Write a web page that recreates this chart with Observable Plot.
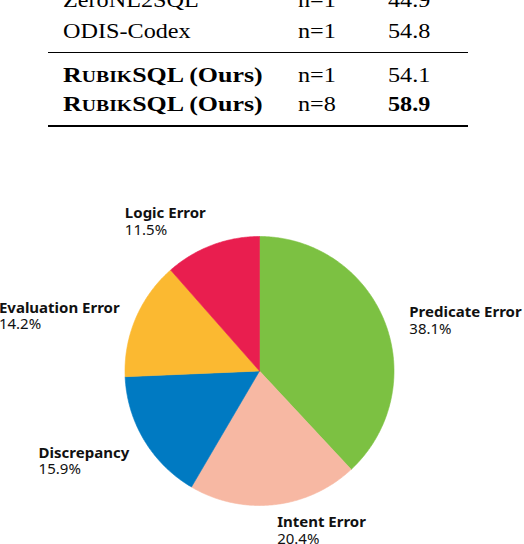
<!DOCTYPE html>
<html><head><meta charset="utf-8">
<script src="https://cdn.jsdelivr.net/npm/d3@7"></script>
<script src="https://cdn.jsdelivr.net/npm/@observablehq/plot@0.6"></script>
<style>
body{margin:0;background:#fff;width:524px;height:544px;overflow:hidden}
#table{position:relative;height:150px;overflow:hidden;font-family:"Liberation Serif","Times New Roman",serif;color:#000}
.cell{position:absolute;white-space:nowrap;font-size:22px;line-height:22px;transform:scaleX(1.1);transform-origin:0 0}
.cell.ours{font-weight:bold;transform:scaleX(1.18)}
.sc{font-size:0.76em;text-transform:uppercase}
.rule{position:absolute;background:#000}
#chart svg{display:block}
</style></head><body>
<div id="table"></div>
<div id="chart"></div>
<script>
// ---- table data ----
const methods = ["ZeroNL2SQL", "ODIS-Codex", "RubikSQL (Ours)", "RubikSQL (Ours)"];
const ours = [false, false, true, true];
const samples = ["n=1", "n=1", "n=1", "n=8"];
const scores = [44.9, 54.8, 54.1, 58.9];
const best = [false, false, false, true];

// ---- pie data ----
const categories = ["Predicate Error", "Intent Error", "Discrepancy", "Evaluation Error", "Logic Error"];
const shares = [38.1, 20.4, 15.9, 14.2, 11.5];
const colors = ["#7cc142", "#f7b8a3", "#007ac2", "#fbb931", "#e91e4f"];

// ---- table layout ----
const table = document.getElementById("table");
const baselines = [7, 38.5, 82, 111.5];
const colLeft = [63, 298, 388];
const ascent = 0.8375 * 22;
methods.forEach((m, i) => {
  const top = baselines[i] - ascent;
  const cells = [m, samples[i], scores[i].toFixed(1)];
  cells.forEach((txt, j) => {
    const d = document.createElement("div");
    d.className = "cell";
    d.style.left = colLeft[j] + "px";
    d.style.top = top + "px";
    if (j === 0 && ours[i]) {
      // small caps: "R" + "UBIK" (reduced) + "SQL", then " (Ours)"
      const k = txt.indexOf(" ");
      const word = txt.slice(0, k);
      d.classList.add("ours");
      d.innerHTML = word[0] + '<span class="sc">' + word.slice(1, 5) + '</span>' + word.slice(5) + txt.slice(k);
    } else {
      d.textContent = txt;
      if (j === 2 && best[i]) d.style.fontWeight = "bold";
    }
    table.appendChild(d);
  });
});
[[52, 1.4], [125, 2.4]].forEach(([y, h]) => {
  const r = document.createElement("div");
  r.className = "rule";
  r.style.left = "48px"; r.style.width = "420px";
  r.style.top = y + "px"; r.style.height = h + "px";
  table.appendChild(r);
});

// ---- pie ----
const W = 524, H = 394, CX = 259, CY = 220.5, R = 134.5;
const arcs = d3.pie().sort(null).value(d => d)(shares);
const slicePts = [];
arcs.forEach((a, i) => {
  const cat = categories[i];
  slicePts.push({cat, x: 0, y: 0});
  const n = Math.max(2, Math.ceil((a.endAngle - a.startAngle) / 0.01));
  for (let k = 0; k <= n; k++) {
    const t = a.startAngle + (a.endAngle - a.startAngle) * k / n;
    slicePts.push({cat, x: Math.sin(t), y: Math.cos(t)});
  }
  slicePts.push({cat, x: 0, y: 0});
});

const ctx = document.createElement("canvas").getContext("2d");
ctx.font = "bold 15px 'Noto Sans'";
const labels = arcs.map((a, i) => {
  const mid = (a.startAngle + a.endAngle) / 2;
  const s = Math.sin(mid), c = Math.cos(mid);
  const right = s >= 0;
  const ax = CX + s * (right ? 161 : 152);
  const cyBlock = CY - c * 161 + 10 * s * s;
  const w = ctx.measureText(categories[i]).width;
  const left = right ? ax : ax - w;
  return {name: categories[i], pct: shares[i].toFixed(1) + "%", x: (left - CX) / R, y: (CY - cyBlock) / R};
});

const chart = Plot.plot({
  width: W, height: H,
  margin: 0,
  x: {domain: [-CX / R, (W - CX) / R], axis: null},
  y: {domain: [-(H - CY) / R, CY / R], axis: null},
  color: {domain: categories, range: colors},
  marks: [
    Plot.line(slicePts, {x: "x", y: "y", z: "cat", fill: "cat", stroke: "cat", strokeWidth: 0.6}),
    Plot.text(labels, {x: "x", y: "y", text: "name", textAnchor: "start", dy: -8.5, fontSize: 15, fontWeight: "bold", fontFamily: "'Noto Sans'", fill: "#111"}),
    Plot.text(labels, {x: "x", y: "y", text: "pct", textAnchor: "start", dy: 8.2, fontSize: 15, fontFamily: "'Noto Sans'", fill: "#111"})
  ]
});
document.getElementById("chart").appendChild(chart);
</script>
</body></html>
